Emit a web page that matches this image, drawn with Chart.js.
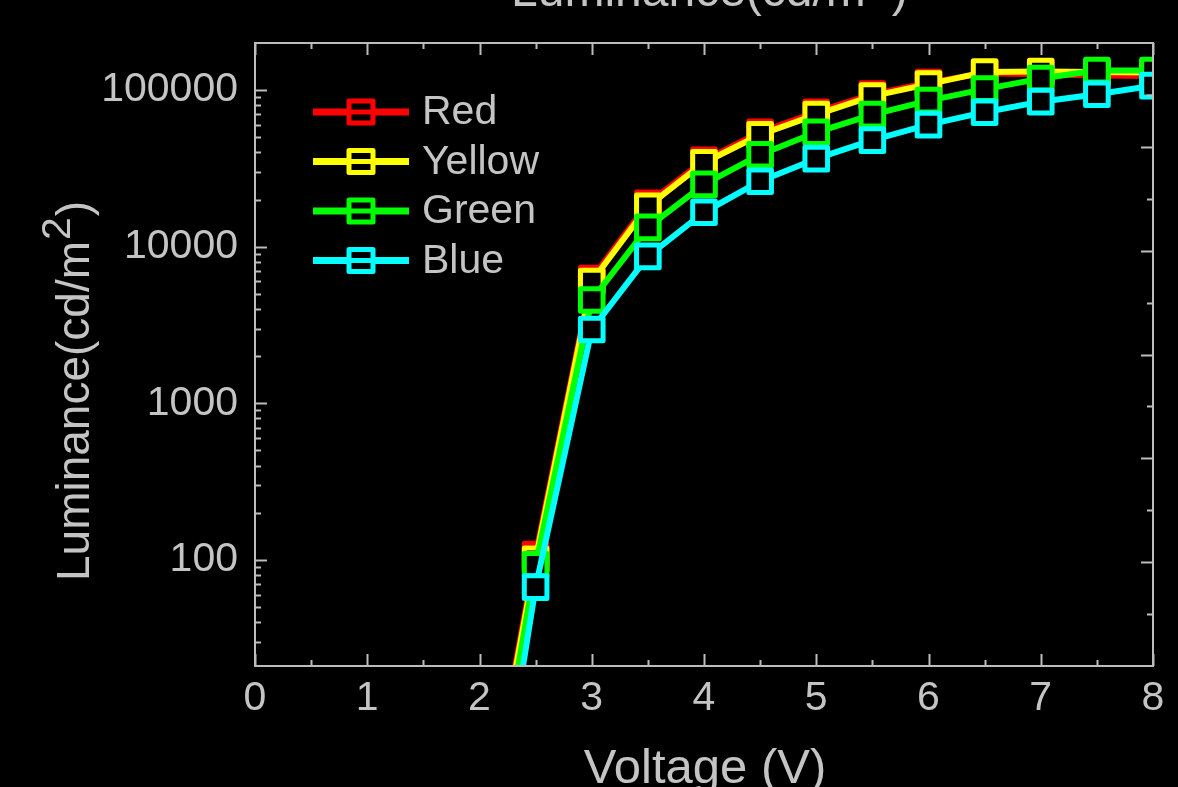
<!DOCTYPE html>
<html>
<head>
<meta charset="utf-8">
<script src="https://cdn.jsdelivr.net/npm/chart.js@4/dist/chart.umd.min.js"></script>
<style>
html,body{margin:0;padding:0;background:#000;overflow:hidden;}
#wrap{width:1178px;height:787px;position:relative;background:#000;}
</style>
</head>
<body>
<div id="wrap"><canvas id="c" width="1178" height="787"></canvas></div>
<script>
// ---- data ----
const voltage   = [2.0, 2.5, 3.0, 3.5, 4.0, 4.5, 5.0, 5.5, 6.0, 6.5, 7.0, 7.5, 8.0];
const redLum    = [1.2, 108, 6270, 18900, 35600, 53800, 72300, 94300, 111700, 128400, 126500, 123800, 122900];
const yellowLum = [1.1, 101, 6000, 18100, 34400, 51900, 69700, 91600, 109300, 130400, 131300, 130400, 129400];
const greenLum  = [0.75, 93, 4570, 13300, 25000, 38700, 53800, 69700, 85700, 101500, 118500, 133300, 133300];
const blueLum   = [0.38, 67, 2960, 8670, 16600, 26200, 36500, 47900, 60200, 72300, 84400, 94200, 106800];
const seriesNames  = ['Red', 'Yellow', 'Green', 'Blue'];
const seriesColors = ['#ff0000', '#ffff00', '#00ff00', '#00ffff'];
const xTickLabels  = [0, 1, 2, 3, 4, 5, 6, 7, 8];
const yTickLabels  = [100, 1000, 10000, 100000];
const xTitle = 'Voltage (V)';
const yTitleMain = 'Luminance(cd/m';
const yTitleSup = '2';
const yTitleEnd = ')';

const TEXT = '#c4c4c4';
const AXIS = '#bcbcbc';
const FONT = '"Liberation Sans", Arial, sans-serif';

const allSeries = [redLum, yellowLum, greenLum, blueLum];
const datasets = allSeries.map((arr, i) => ({
  label: seriesNames[i],
  data: voltage.map((v, j) => ({x: v, y: arr[j]})),
  borderColor: seriesColors[i],
  backgroundColor: '#000000',
  borderWidth: 6,
  borderJoinStyle: 'round',
  borderCapStyle: 'round',
  pointStyle: 'rect',
  pointRadius: 16,
  pointHoverRadius: 16,
  pointBorderWidth: 5,
  pointBorderColor: seriesColors[i],
  pointBackgroundColor: '#000000',
  tension: 0,
  clip: 0,
  order: 4 - i
}));

function drawTitleText(ctx, x, y, rotate, size) {
  ctx.save();
  ctx.translate(x, y);
  if (rotate) ctx.rotate(-Math.PI / 2);
  ctx.fillStyle = TEXT;
  ctx.textAlign = 'left';
  ctx.textBaseline = 'alphabetic';
  ctx.font = size + 'px ' + FONT;
  ctx.fillText(yTitleMain, 0, 0);
  let w = ctx.measureText(yTitleMain).width;
  ctx.font = Math.round(size * 0.9) + 'px ' + FONT;
  ctx.fillText(yTitleSup, w + 1, -size * 0.42);
  w += ctx.measureText(yTitleSup).width + 2;
  ctx.font = size + 'px ' + FONT;
  ctx.fillText(yTitleEnd, w, 0);
  ctx.restore();
}

const decorPlugin = {
  id: 'decor',
  beforeDatasetsDraw(chart) {
    chart.ctx.save();
    chart.ctx.lineJoin = 'round';
  },
  afterDatasetsDraw(chart) {
    chart.ctx.restore();
  },
  afterDraw(chart) {
    const ctx = chart.ctx;
    const ca = chart.chartArea;
    const xs = chart.scales.x, ys = chart.scales.y;
    ctx.save();
    // frame
    ctx.strokeStyle = AXIS;
    ctx.lineWidth = 2;
    ctx.lineCap = 'butt';
    ctx.strokeRect(ca.left, ca.top, ca.right - ca.left, ca.bottom - ca.top);
    ctx.beginPath();
    // x ticks, bottom and top (inward)
    for (let k = 0; k <= 16; k++) {
      const v = k * 0.5;
      const px = Math.round(xs.getPixelForValue(v)) + 0.5;
      const len = (k % 2 === 0) ? 12 : 6;
      ctx.moveTo(px, ca.bottom); ctx.lineTo(px, ca.bottom - len);
      ctx.moveTo(px, ca.top); ctx.lineTo(px, ca.top + len);
    }
    // y log ticks, left (inward)
    for (let d = 1; d <= 5; d++) {
      for (let m = 1; m <= 9; m++) {
        const val = m * Math.pow(10, d);
        if (val <= ys.min || val >= ys.max) continue;
        const py = Math.round(ys.getPixelForValue(val)) + 0.5;
        const len = (m === 1) ? 12 : 6;
        ctx.moveTo(ca.left, py); ctx.lineTo(ca.left + len, py);
      }
    }
    // right axis ticks (second, unlabeled linear axis)
    for (let k = 1; k < 12; k++) {
      const py = Math.round(ca.bottom - k / 12 * (ca.bottom - ca.top)) + 0.5;
      const len = (k % 2 === 0) ? 12 : 6;
      ctx.moveTo(ca.right, py); ctx.lineTo(ca.right - len, py);
    }
    ctx.stroke();

    // legend
    const lx0 = 313, lx1 = 409, mx = 361, ly0 = 112, dy = 49.5;
    seriesNames.forEach((name, i) => {
      const y = ly0 + i * dy;
      ctx.strokeStyle = seriesColors[i];
      ctx.lineWidth = 7;
      ctx.beginPath(); ctx.moveTo(lx0, y); ctx.lineTo(lx1, y); ctx.stroke();
      ctx.lineWidth = 5;
      ctx.lineJoin = 'round';
      ctx.fillStyle = '#000';
      ctx.fillRect(mx - 12, y - 11, 24, 22);
      ctx.beginPath(); ctx.moveTo(mx - 12, y); ctx.lineTo(mx + 12, y); ctx.stroke();
      ctx.strokeRect(mx - 12, y - 11, 24, 22);
      ctx.fillStyle = TEXT;
      ctx.font = '41px ' + FONT;
      ctx.textAlign = 'left';
      ctx.textBaseline = 'middle';
      ctx.fillText(name, 422, y + 1);
    });

    // axis titles
    ctx.fillStyle = TEXT;
    ctx.font = '49px ' + FONT;
    ctx.textAlign = 'center';
    ctx.textBaseline = 'alphabetic';
    ctx.fillText(xTitle, 705, 783);
    drawTitleText(ctx, 89, 581, true, 46);
    // clipped chart title at the top
    drawTitleText(ctx, 511, 6, false, 48);
    ctx.restore();
  }
};

new Chart(document.getElementById('c'), {
  type: 'line',
  data: { datasets },
  plugins: [decorPlugin],
  options: {
    responsive: false,
    animation: false,
    devicePixelRatio: 1,
    events: [],
    layout: { padding: { left: 0, right: 25, top: 43, bottom: 0 } },
    plugins: { legend: { display: false }, tooltip: { enabled: false }, title: { display: false } },
    scales: {
      x: {
        type: 'linear',
        position: 'bottom',
        min: 0, max: 8,
        afterBuildTicks: s => { s.ticks = xTickLabels.map(v => ({ value: v })); },
        afterFit: s => { s.height = 121; },
        grid: { display: false, drawTicks: false },
        border: { display: false },
        ticks: { color: TEXT, font: { family: FONT, size: 41 }, padding: 8, maxRotation: 0,
                 callback: v => String(v) }
      },
      y: {
        type: 'logarithmic',
        position: 'left',
        min: 21, max: 200000,
        afterBuildTicks: s => { s.ticks = yTickLabels.map(v => ({ value: v })); },
        afterFit: s => { s.width = 255; },
        grid: { display: false, drawTicks: false },
        border: { display: false },
        ticks: { color: TEXT, font: { family: FONT, size: 41 }, padding: 17,
                 callback: v => String(v) }
      }
    }
  }
});
</script>
</body>
</html>
